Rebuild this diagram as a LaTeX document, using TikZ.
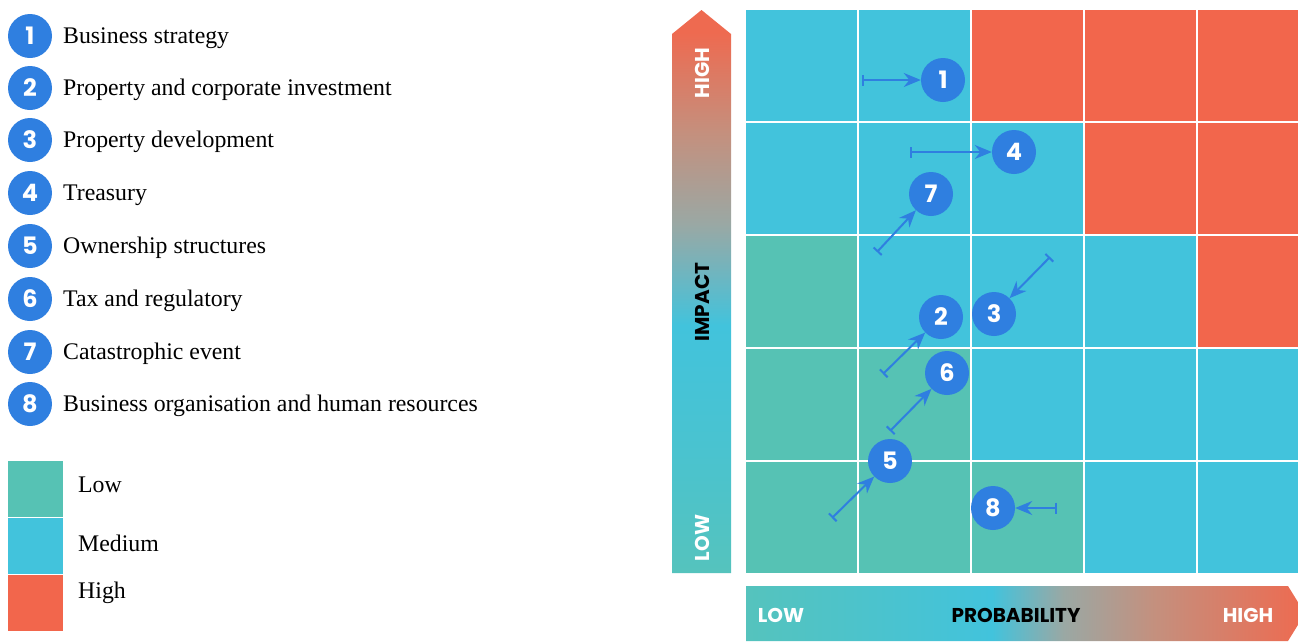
\documentclass[tikz,border=0pt]{standalone}
\usepackage{fontspec}
\setmainfont{Liberation Serif}
\newfontfamily\headfont{Poppins}[BoldFont={Poppins Bold}]
\usetikzlibrary{arrows.meta}
\definecolor{lowteal}{HTML}{56C2B4}
\definecolor{medblue}{HTML}{42C3DC}
\definecolor{highred}{HTML}{F2664C}
\definecolor{dotblue}{HTML}{2F7FE0}
\definecolor{barred}{HTML}{EE6A50}
\definecolor{barteal}{HTML}{55C3BD}
\definecolor{bargray}{HTML}{9AA8A4}
\definecolor{barpink}{HTML}{C4907E}
% impact bar: bottom (25bp) to top (75bp)
\pgfdeclareverticalshading{impactshade}{100bp}{
  color(0bp)=(barteal); color(25bp)=(barteal); color(36bp)=(barteal!40!medblue);
  color(47bp)=(medblue); color(56bp)=(bargray); color(64bp)=(barpink);
  color(73bp)=(barred); color(100bp)=(barred)}
% probability bar: left (25bp) to right (75bp)
\pgfdeclarehorizontalshading{probshade}{100bp}{
  color(0bp)=(barteal); color(25bp)=(barteal); color(47bp)=(medblue);
  color(53.4bp)=(bargray); color(61.5bp)=(barpink); color(75bp)=(barred);
  color(100bp)=(barred)}
\tikzset{
  dot/.style={circle, fill=dotblue, minimum size=44pt, inner sep=0pt,
    text=white, font=\headfont\bfseries\fontsize{24}{24}\selectfont},
  legendtext/.style={anchor=west, inner sep=0pt, font=\fontsize{23.8}{26}\selectfont},
  axislabel/.style={font=\headfont\bfseries\fontsize{20}{20}\selectfont, text=white, inner sep=0pt},
  move/.style={draw=dotblue, line width=2pt,
    {Bar[width=11pt,line width=2pt]}-{Stealth[length=17pt,width=14pt]}},
}
\begin{document}
\begin{tikzpicture}[x=1pt,y=-1pt]
\useasboundingbox (0,0) rectangle (1298,641);

% legend of risk items
\foreach \n/\yy/\txt in {1/36/Business strategy, 2/88/Property and corporate investment,
    3/140/Property development, 4/193/Treasury, 5/246/Ownership structures,
    6/299/Tax and regulatory, 7/352/Catastrophic event,
    8/404/Business organisation and human resources}{
  \node[dot] (l\n) at (30,\yy) {\n};
  \node[legendtext] (lt\n) at (63,\yy+2) {\txt};
}

% legend of risk levels
\node[fill=lowteal, inner sep=0pt, minimum width=55pt, minimum height=56pt, anchor=north west] (klow) at (8,461) {};
\node[fill=medblue, inner sep=0pt, minimum width=55pt, minimum height=56pt, anchor=north west] (kmed) at (8,518) {};
\node[fill=highred, inner sep=0pt, minimum width=55pt, minimum height=56pt, anchor=north west] (khigh) at (8,575) {};
\node[legendtext] (tlow) at (78,485) {Low};
\node[legendtext] (tmed) at (78,543) {Medium};
\node[legendtext] (thigh) at (78,593) {High};

% heat map grid, rows top to bottom
\foreach \row/\cols in {0/{medblue,medblue,highred,highred,highred},
    1/{medblue,medblue,medblue,highred,highred},
    2/{lowteal,medblue,medblue,medblue,highred},
    3/{lowteal,lowteal,medblue,medblue,medblue},
    4/{lowteal,lowteal,lowteal,medblue,medblue}}{
  \foreach \c [count=\col from 0] in \cols {
    \fill[\c] (746+\col*113,10+\row*113) rectangle ++(111,111);
  }
}

% impact axis
\shade[shading=impactshade] (672,573) -- (672,34) -- (701.5,10) -- (731,34) -- (731,573) -- cycle;
\node[axislabel, rotate=90] (ihigh) at (702,73) {HIGH};
\node[axislabel, rotate=90, text=black] (impact) at (702,302) {IMPACT};
\node[axislabel, rotate=90] (ilow) at (702,538) {LOW};

% probability axis
\shade[shading=probshade] (746,586) -- (1288,586) -- (1305,613.5) -- (1288,641) -- (746,641) -- cycle;
\node[axislabel] (plow) at (781,615) {LOW};
\node[axislabel, text=black] (prob) at (1016,615) {PROBABILITY};
\node[axislabel] (phigh) at (1248,615) {HIGH};

% risk positions
\node[dot] (c1) at (943,80) {1};
\node[dot] (c4) at (1014,152) {4};
\node[dot] (c7) at (931,194) {7};
\node[dot] (c2) at (941,317) {2};
\node[dot] (c3) at (994,314) {3};
\node[dot] (c6) at (947,373) {6};
\node[dot] (c5) at (890,461) {5};
\node[dot] (c8) at (993,508) {8};

% previous positions
\coordinate (p1) at (862,80);
\coordinate (p4) at (910,152);
\coordinate (p7) at (877,252);
\coordinate (p2) at (883,374);
\coordinate (p3) at (1050,257);
\coordinate (p6) at (890,431);
\coordinate (p5) at (832,518);
\coordinate (p8) at (1057,508);

\foreach \k in {1,4,7,2,3,6,5,8}{
  \draw[move] (p\k) -- (c\k);
}
\end{tikzpicture}
\end{document}
